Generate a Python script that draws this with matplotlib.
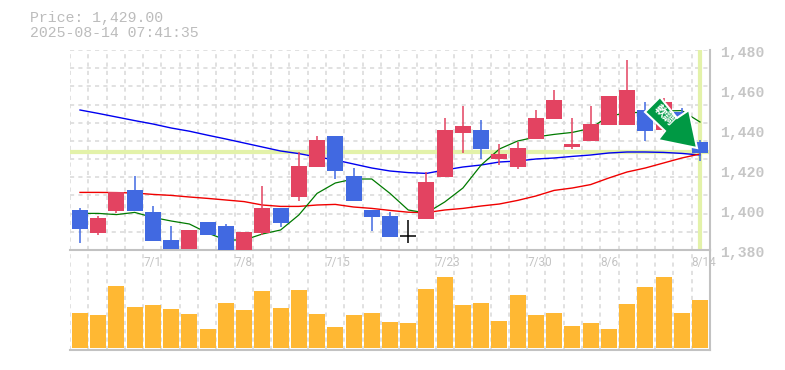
import numpy as np
import matplotlib
matplotlib.use("Agg")
import matplotlib.pyplot as plt
from matplotlib.patches import Polygon

W, H = 785, 370
opens  = [1400,1388.5,1399.5,1410,1399,1385,1380.5,1394,1392,1377.5,1388.5,1401,1406.5,1421.5,1437,1417,1400,1397,1387,1395.5,1416.5,1438.5,1440,1425.5,1421.5,1435.5,1445.5,1431.5,1434.5,1442.5,1442.5,1450,1440,1449,1434]
closes = [1390.5,1396,1409,1399.5,1384.5,1380.5,1390,1387.5,1376.5,1389,1401,1393.5,1422,1435,1419.5,1404.5,1396.5,1386.5,1387,1414,1440,1442,1430.5,1428,1431,1446,1455,1433,1443,1457,1460,1439.5,1454,1440,1428.5]
highs  = [1401,1397,1409,1417,1402,1392,1390,1394,1393,1389,1412,1401,1429,1437,1437,1421,1400,1399,1395,1419,1446,1452,1445,1433,1434,1450,1460,1446,1452,1457,1475,1454,1456,1451,1435]
lows   = [1383.5,1387.5,1398.5,1399.5,1384.5,1380.5,1380.5,1387.5,1376.5,1377.5,1387.5,1391.5,1404.5,1421.5,1415.5,1404.5,1389.5,1386.5,1383.5,1395.5,1416.5,1428.5,1425.5,1422.5,1420.5,1435.5,1445.5,1430.5,1434.5,1442.5,1442.5,1434.5,1438,1438,1424.5]
ma_short = [1398.3,1398.3,1397.7,1398.8,1396.3,1394.5,1393,1388.5,1385,1385,1388,1390,1397.5,1408.3,1413.5,1415.5,1415.5,1408.3,1400,1398.5,1404,1411,1422.5,1430.5,1434.5,1436.5,1437.8,1438.8,1440.8,1447,1448.5,1449,1449.5,1449.7,1444]
ma_mid = [1408.8,1408.8,1408.7,1408.5,1407.8,1407.3,1406.5,1405.8,1405,1404.2,1402.5,1401.8,1401.8,1402.5,1402.8,1401.5,1400.8,1399.8,1398.9,1398.7,1400,1400.8,1402,1403,1404.8,1407,1409.8,1411,1412.7,1416,1419,1421,1423.5,1426,1428]
ma_long = [1450,1448.3,1446.5,1444.7,1443,1441,1439.4,1437.4,1435.5,1433.5,1431.5,1429.5,1428.2,1426.5,1425,1423,1421,1419.5,1418.7,1418.3,1420,1421.5,1422.5,1424,1424.5,1425.5,1426,1426.8,1427.5,1428.5,1429,1429,1428.8,1428.3,1427.5]
volumes = [35,33,62,41,43,39,34,19,45,38,57,40,58,34,21,33,35,26,25,59,71,43,45,27,53,33,35,22,25,19,44,61,71,35,48]
last_price = 1429
price_ticks = [1380,1400,1420,1440,1460,1480]
date_labels = {4:"7/1",9:"7/8",14:"7/15",20:"7/23",25:"7/30",29:"8/6",34:"8/14"}
title_lines = ["Price: 1,429.00","2025-08-14 07:41:35"]
signal_label = "軟調"

RED, BLUE = "#e34361", "#4169e1"
GREY = "#c2c2c2"
MONO = "Liberation Mono"
fig = plt.figure(figsize=(W/100,H/100),dpi=100)
def box(l,t,r,b):
    return [l/W,1-b/H,(r-l)/W,(b-t)/H]
ax = fig.add_axes(box(70,50,710,250))
vax = fig.add_axes(box(70,250,710,350))
xl = (-10/18.235, 630/18.235)
n = len(opens); xs = np.arange(n)
grid_x = np.linspace(xl[0],xl[1],36)
for a in (ax,vax):
    a.set_xlim(xl)
    a.patch.set_alpha(0)
    a.tick_params(length=0,labelbottom=False,labelleft=False)
    for s in a.spines.values(): s.set_visible(False)
    for g in grid_x[:-1]:
        a.axvline(g,color="#dcdcdc",lw=1.2,ls=(0,(2.5,2.5)),zorder=0)
ax.set_ylim(1380,1480); vax.set_ylim(-2,98)
for g in np.linspace(1380,1480,12)[1:]:
    ax.axhline(g,color="#dcdcdc",lw=1.2,ls=(0,(2.5,2.5)),zorder=0)
ax.axhline(last_price,color="#e3f2a9",lw=3,zorder=1)
ax.axvline(xs[-1],color="#e3f2a9",lw=3,zorder=1)
for a in (ax,vax):
    a.spines["bottom"].set_visible(True); a.spines["bottom"].set_color(GREY); a.spines["bottom"].set_linewidth(1.5)
    a.spines["right"].set_visible(True); a.spines["right"].set_color(GREY); a.spines["right"].set_linewidth(1.5)
ax.plot(xs,ma_long,color="#0000f0",lw=1,zorder=2)
ax.plot(xs,ma_mid,color="#f00000",lw=1,zorder=2)
ax.plot(xs,ma_short,color="#007a00",lw=0.9,zorder=2)
w = 16/18.235
for x,o,c,h,l in zip(xs,opens,closes,highs,lows):
    col = "black" if o==c else (RED if c>o else BLUE)
    ax.vlines(x,l,h,color=col,lw=1.1,zorder=3)
    if o==c:
        ax.hlines(o,x-w/2,x+w/2,color=col,lw=1.1,zorder=3)
    else:
        ax.bar(x,abs(c-o),w,bottom=min(o,c),color=col,lw=0,zorder=3)
vax.bar(xs,volumes,w,color="#ffb833",lw=0,zorder=3)
for t in price_ticks:
    ax.text(1+10/640,(t-1380)/100-3/200,f"{t:,}",transform=ax.transAxes,family=MONO,fontsize=10.6,color="#c6c6c6",
            fontweight="bold",va="center",ha="left",clip_on=False)
for k,s in date_labels.items():
    vax.text(grid_x[k],1-12.5/100,s,transform=vax.get_xaxis_transform(),family="Roboto",fontsize=8.5,color="#c4c4c4",va="center",ha="left")
for i,s in enumerate(title_lines):
    fig.text(30/W,1-(18+15*i)/H,s,family=MONO,fontsize=10.7,color="#bcbcbc",va="center",ha="left")
arrow_px = [(660,97),(645,112),(665,131),(658,140),(697,148),(689,110),(677,118)]
fig.add_artist(Polygon([(x/W,1-y/H) for x,y in arrow_px],closed=True,transform=fig.transFigure,
                       fc="#009944",ec="white",lw=1.5,zorder=10,joinstyle="miter"))
fig.text(664/W,1-115/H,signal_label,family="Noto Sans CJK JP",fontsize=8.5,fontweight="bold",color="white",
         rotation=-45,ha="center",va="center",rotation_mode="anchor",zorder=11)
fig.savefig("out.png",dpi=100,facecolor="white")
